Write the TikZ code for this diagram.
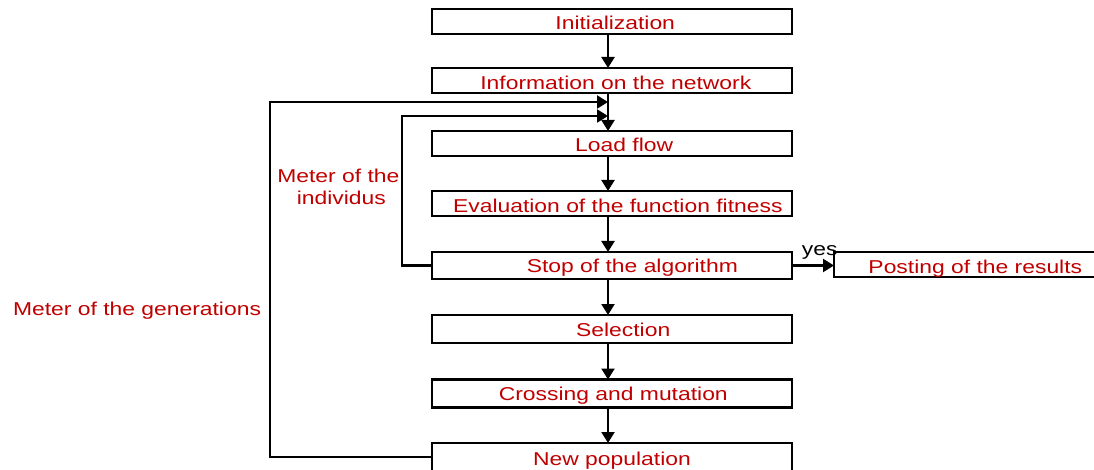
\documentclass[tikz,border=0pt]{standalone}
\usepackage{fontspec}
\usetikzlibrary{arrows.meta}
\newfontfamily\lab[FakeStretch=1.23]{Liberation Sans}
\definecolor{lblred}{RGB}{192,0,0}
\begin{document}
\begin{tikzpicture}[x=1pt,y=-1pt,
  box/.style={draw=black,line width=2.2pt,minimum width=360pt,inner sep=0pt,outer sep=0pt},
  txt/.style={anchor=base,inner sep=0pt,text=lblred,font=\lab\fontsize{18.6}{22}\selectfont},
  ytxt/.style={anchor=base,inner sep=0pt,text=black,font=\lab\fontsize{18.6}{22}\selectfont},
  arr/.style={line width=2.2pt,-{Triangle[length=11pt,width=13pt]}},
  ln/.style={line width=2.2pt}]
\useasboundingbox (0,0) rectangle (1094,470);
% boxes
\node[box,minimum height=25pt] (b1) at (612,21.5) {};
\node[box,minimum height=25pt] (b2) at (612,80.5) {};
\node[box,minimum height=25pt] (b3) at (612,143.5) {};
\node[box,minimum height=25pt] (b4) at (612,203.5) {};
\node[box,minimum height=27pt] (b5) at (612,265.5) {};
\node[box,minimum height=28pt] (b6) at (612,329) {};
\node[box,minimum height=28pt] (b7) at (612,393.5) {};
\node[box,minimum height=28pt] (b8) at (612,457) {};
\node[box,minimum width=270pt,minimum height=25pt] (b9) at (969,264.5) {};
% texts
\node[txt] (t1) at (615.2,30) {Initialization};
\node[txt] (t2) at (615.8,89.3) {Information on the network};
\node[txt] (t3) at (624.2,151.7) {Load flow};
\node[txt] (t4) at (617.8,212.3) {Evaluation of the function fitness};
\node[txt] (t5) at (632.3,272.3) {Stop of the algorithm};
\node[txt] (t6) at (623.2,336.7) {Selection};
\node[txt] (t7) at (613.3,400.7) {Crossing and mutation};
\node[txt] (t8) at (612,465) {New population};
\node[txt] (t9) at (975.3,273.3) {Posting of the results};
\node[txt] (lg) at (137,315) {Meter of the generations};
\node[txt] (li1) at (338.3,182.3) {Meter of the};
\node[txt] (li2) at (341.3,204.3) {individus};
\node[ytxt] (yes) at (819.7,255) {yes};
% helper coordinates
\coordinate (cx) at (608,0);
\coordinate (m1) at (608,102);
\coordinate (m2) at (608,116);
\coordinate (gx) at (270,0);
\coordinate (ix) at (402,0);
% main flow
\draw[arr] (b1.south -| cx) -- (b2.north -| cx);
\draw[ln] (b2.south -| cx) -- (m2);
\draw[arr] (m2) -- (b3.north -| cx);
\draw[arr] (b3.south -| cx) -- (b4.north -| cx);
\draw[arr] (b4.south -| cx) -- (b5.north -| cx);
\draw[arr] (b5.south -| cx) -- (b6.north -| cx);
\draw[arr] (b6.south -| cx) -- (b7.north -| cx);
\draw[arr] (b7.south -| cx) -- (b8.north -| cx);
% yes branch
\draw[arr] (b5.east) -- (b5.east -| b9.west);
% loops
\draw[arr] (b8.west) -- (b8.west -| gx) |- (m1);
\draw[arr] (b5.west) -- (b5.west -| ix) |- (m2);
\end{tikzpicture}
\end{document}
